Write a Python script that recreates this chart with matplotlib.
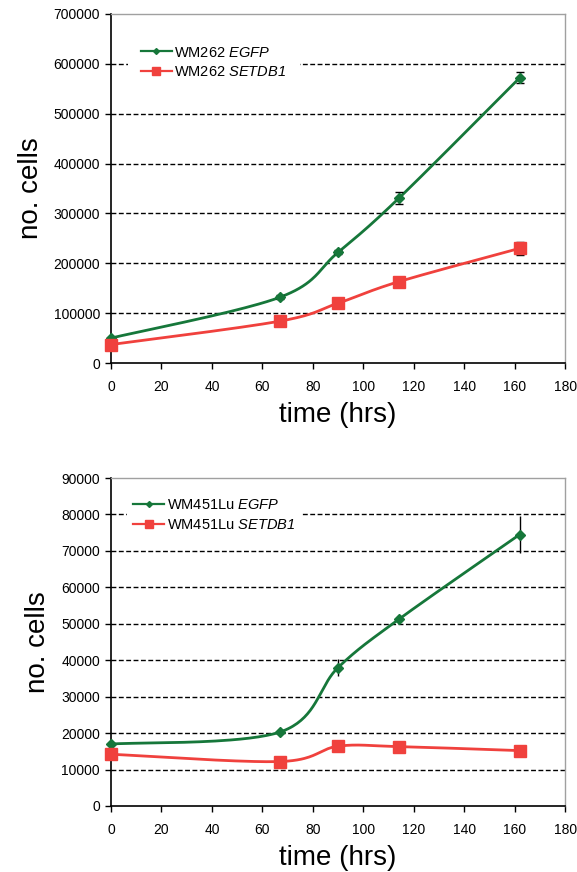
import matplotlib
matplotlib.use("Agg")
import matplotlib.pyplot as plt
import numpy as np

plt.rcParams["font.family"] = ["Liberation Sans", "DejaVu Sans"]
plt.rcParams["mathtext.fontset"] = "custom"
plt.rcParams["mathtext.rm"] = "Liberation Sans:italic"
plt.rcParams["mathtext.it"] = "Liberation Sans:italic"

# time points (hrs)
TIME = [0, 67, 90, 114, 162]

# WM262
WM262_EGFP = [50000, 132000, 222000, 330000, 572000]
WM262_EGFP_ERR = [2000, 4000, 4000, 12000, 11000]
WM262_SETDB1 = [37000, 84000, 120000, 163000, 230000]
WM262_SETDB1_ERR = [2000, 3000, 3000, 3000, 13000]

# WM451Lu
WM451_EGFP = [17000, 20300, 38000, 51200, 74500]
WM451_EGFP_ERR = [300, 500, 2300, 600, 5000]
WM451_SETDB1 = [14200, 12200, 16400, 16300, 15200]
WM451_SETDB1_ERR = [300, 300, 300, 300, 300]

GREEN = "#16773a"
RED = "#f0413d"


def smooth(x, y, n=40):
    """Excel-like smoothed line: cubic Bezier with Catmull-Rom control points."""
    p = np.column_stack([x, y]).astype(float)
    pts = np.vstack([p[0], p, p[-1]])
    out = []
    t = np.linspace(0, 1, n)[:, None]
    for i in range(1, len(pts) - 2):
        p0, p1, p2, p3 = pts[i - 1], pts[i], pts[i + 1], pts[i + 2]
        c1 = p1 + (p2 - p0) / 6
        c2 = p2 - (p3 - p1) / 6
        seg = ((1 - t) ** 3) * p1 + 3 * ((1 - t) ** 2) * t * c1 + 3 * (1 - t) * t ** 2 * c2 + t ** 3 * p2
        out.append(seg)
    s = np.vstack(out)
    return s[:, 0], s[:, 1]


def panel(ax, series, ymax, ystep, caps, leg_anchor, leg_pad):
    ax.set_xlim(0, 180)
    ax.set_ylim(0, ymax)
    ax.set_xticks(np.arange(0, 181, 20))
    ax.set_yticks(np.arange(0, ymax + 1, ystep))
    for y in np.arange(ystep, ymax, ystep):
        ax.axhline(y, color="black", lw=1.0, ls=(0, (3.5, 1.8)), zorder=1)
    handles = []
    for label, vals, err, color, marker, ms in series:
        sx, sy = smooth(TIME, vals)
        ax.plot(sx, sy, color=color, lw=2.0, zorder=3, clip_on=False)
        ax.errorbar(TIME, vals, yerr=err, fmt="none", ecolor="black",
                    elinewidth=1.0, capsize=caps, capthick=1.0, zorder=4)
        ax.plot(TIME, vals, ls="none", marker=marker, color=color,
                ms=ms, zorder=5, clip_on=False)
        h, = ax.plot([], [], color=color, lw=1.6, marker=marker, ms=ms - 2)
        handles.append((h, label))
    leg = ax.legend([h for h, _ in handles], [l for _, l in handles],
                    loc="center left", bbox_to_anchor=leg_anchor,
                    frameon=True, fancybox=False, edgecolor="none",
                    facecolor="white", framealpha=1, fontsize=10.5,
                    handlelength=2.1, handletextpad=0.2, labelspacing=0.4,
                    borderpad=leg_pad, borderaxespad=0.0)
    leg.set_zorder(2)
    for side in ("left", "bottom"):
        ax.spines[side].set_color("black")
        ax.spines[side].set_linewidth(1.2)
    for side in ("top", "right"):
        ax.spines[side].set_color("#a0a0a0")
        ax.spines[side].set_linewidth(1.0)
    ax.tick_params(direction="out", length=4, width=1.0, labelsize=10,
                   colors="black", pad=4)
    ax.tick_params(axis="x", pad=8)
    ax.set_ylabel("no. cells", fontsize=20, labelpad=7)
    ax.set_xlabel("time (hrs)", fontsize=20, labelpad=6)


fig = plt.figure(figsize=(5.77, 8.72), dpi=100)
ax1 = fig.add_axes([0.1924, 0.5837, 0.787, 0.4003])
ax2 = fig.add_axes([0.1924, 0.0757, 0.787, 0.3761])

panel(ax1, [
    ("WM262 $EGFP$", WM262_EGFP, WM262_EGFP_ERR, GREEN, "D", 5),
    ("WM262 $SETDB1$", WM262_SETDB1, WM262_SETDB1_ERR, RED, "s", 8),
], 700000, 100000, 3, (0.037, 0.861), 0.9)

panel(ax2, [
    ("WM451Lu $EGFP$", WM451_EGFP, WM451_EGFP_ERR, GREEN, "D", 5),
    ("WM451Lu $SETDB1$", WM451_SETDB1, WM451_SETDB1_ERR, RED, "s", 8),
], 90000, 10000, 0, (0.035, 0.887), 0.45)

fig.savefig("out.png", dpi=100)
